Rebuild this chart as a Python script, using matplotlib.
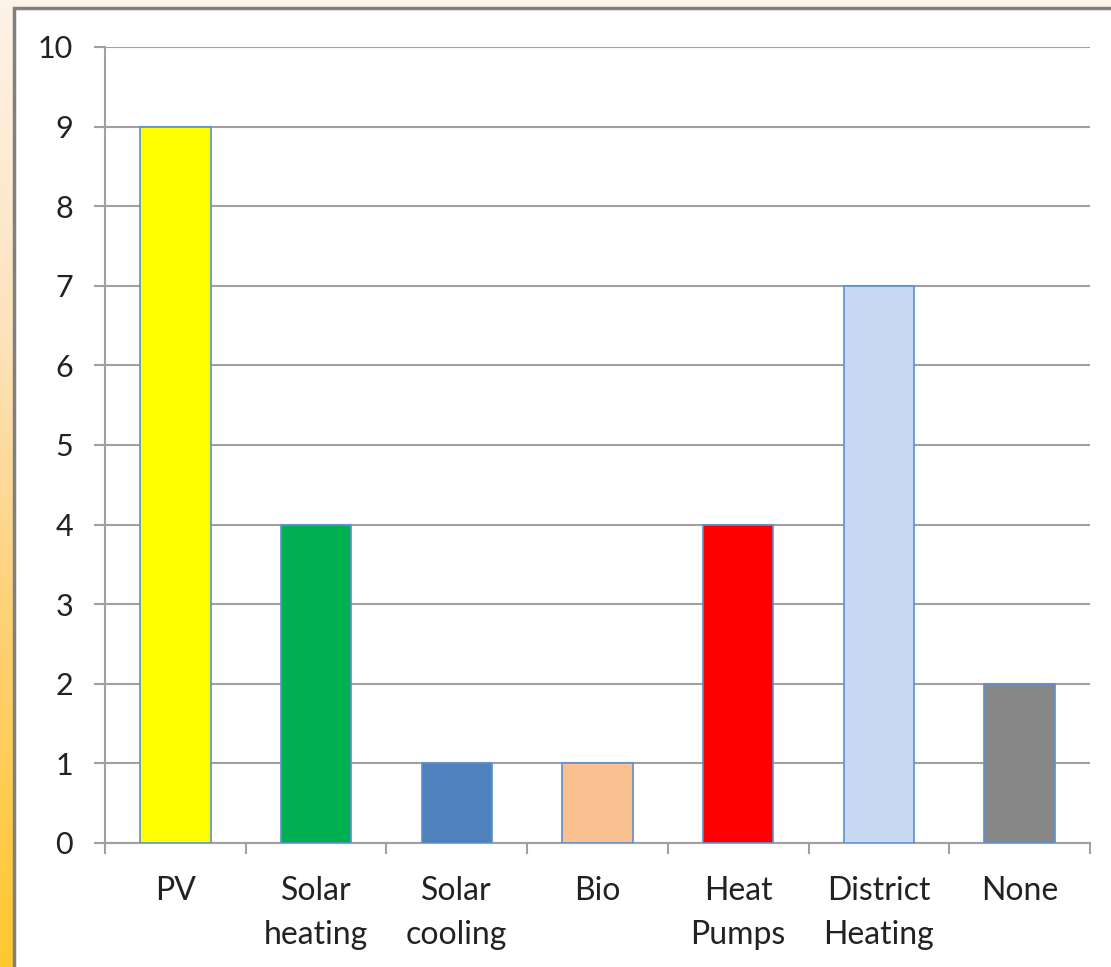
import numpy as np
import matplotlib.pyplot as plt
from matplotlib.patches import Rectangle
from matplotlib.colors import LinearSegmentedColormap

categories = ["PV", "Solar\nheating", "Solar\ncooling", "Bio", "Heat\nPumps", "District\nHeating", "None"]
values = [9, 4, 1, 1, 4, 7, 2]
colors = ["#FFFF00", "#00B050", "#4F81BD", "#FAC090", "#FF0000", "#C6D9F1", "#878787"]
yticks = list(range(0, 11))

plt.rcParams['font.family'] = ['Lato', 'DejaVu Sans']

fig = plt.figure(figsize=(11.11, 9.67), dpi=100)

# background gradient (peach at top, orange-yellow at bottom)
bg = fig.add_axes([0, 0, 1, 1], zorder=-10)
cmap = LinearSegmentedColormap.from_list("bg", ["#FDF3E7", "#FDE3BE", "#FFD070", "#FFC72E"])
grad = np.linspace(0, 1, 256).reshape(-1, 1)
bg.imshow(grad, aspect="auto", cmap=cmap, extent=[0, 1, 0, 1], origin="upper")
bg.set_axis_off()

# white panel with gray frame
fig.patches.append(Rectangle((13.5 / 1111, -0.01), 1.02, 1 - 7.5 / 967 + 0.01,
                             transform=fig.transFigure, facecolor="white",
                             edgecolor="#808080", linewidth=2.5, zorder=-5))

ax = fig.add_axes([105 / 1111, 1 - 843 / 967, (1090 - 105) / 1111, (843 - 47) / 967])
ax.set_facecolor("none")
x = np.arange(len(categories))
ax.bar(x, values, width=0.5, color=colors, edgecolor="#5B8FD0", linewidth=1.2, zorder=3)

ax.set_xlim(-0.5, len(categories) - 0.5)
ax.set_ylim(0, 10)
ax.set_yticks(yticks)
ax.set_yticklabels([str(t) for t in yticks])
ax.yaxis.grid(True, color="#A0A0A0", linewidth=1.5, zorder=0)

ax.set_xticks(x)
ax.set_xticklabels(categories, linespacing=1.55)
ax.set_xticks(np.arange(-0.5, len(categories)), minor=True)
ax.tick_params(axis="x", which="major", length=0, pad=24, labelsize=23, colors="#222222")
ax.tick_params(axis="x", which="minor", length=8, width=1.5, color="#A0A0A0")
ax.tick_params(axis="y", length=8, width=1.5, color="#A0A0A0", pad=15, labelsize=22, labelcolor="#222222")

for s in ["top", "right"]:
    ax.spines[s].set_visible(False)
for s in ["left", "bottom"]:
    ax.spines[s].set_color("#A0A0A0")
    ax.spines[s].set_linewidth(1.5)

fig.savefig("out.png", dpi=100)
